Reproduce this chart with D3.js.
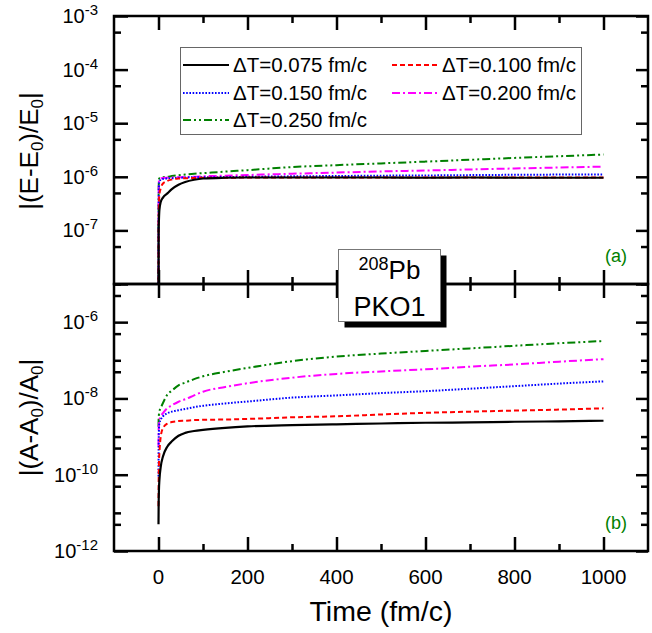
<!DOCTYPE html>
<html>
<head>
<meta charset="utf-8">
<script src="https://cdn.jsdelivr.net/npm/d3@7"></script>
<style>
  html, body { margin: 0; padding: 0; background: #fff; }
  svg { display: block; font-family: "Liberation Sans", Arial, sans-serif; }
</style>
</head>
<body>
<svg id="chart" width="652" height="633"></svg>
<script>
// ---------------- data ----------------
const time = [0, 0.3, 1, 2, 5, 10, 20, 30, 45, 60, 80, 100, 150, 200, 300, 400, 500, 600, 700, 800, 900, 1000];

const seriesNames = ["ΔT=0.075 fm/c", "ΔT=0.100 fm/c", "ΔT=0.150 fm/c", "ΔT=0.200 fm/c", "ΔT=0.250 fm/c"];

// panel (a): |(E-E0)/E0|
const energy075 = [1e-9, 1.0e-7, 1.6e-7, 2.4e-7, 3.4e-7, 4.1e-7, 4.9e-7, 5.9e-7, 7.1e-7, 8.0e-7, 8.8e-7, 9.3e-7, 9.6e-7, 9.7e-7, 9.7e-7, 9.7e-7, 9.7e-7, 9.6e-7, 9.7e-7, 9.6e-7, 9.6e-7, 9.6e-7];
const energy100 = [1e-9, 1.5e-7, 3.2e-7, 4.6e-7, 6.1e-7, 7.5e-7, 8.4e-7, 8.9e-7, 9.3e-7, 9.4e-7, 9.5e-7, 9.6e-7, 9.6e-7, 9.7e-7, 9.7e-7, 9.7e-7, 9.7e-7, 9.7e-7, 9.7e-7, 9.7e-7, 9.7e-7, 9.7e-7];
const energy150 = [1e-9, 3.0e-7, 7.0e-7, 8.2e-7, 8.8e-7, 9.1e-7, 9.3e-7, 9.4e-7, 9.6e-7, 9.7e-7, 9.8e-7, 9.8e-7, 9.9e-7, 1.0e-6, 1.02e-6, 1.035e-6, 1.05e-6, 1.06e-6, 1.075e-6, 1.09e-6, 1.1e-6, 1.11e-6];
const energy200 = [1e-9, 4.0e-7, 8.5e-7, 9.0e-7, 9.3e-7, 9.5e-7, 9.6e-7, 9.7e-7, 9.8e-7, 9.9e-7, 1.0e-6, 1.02e-6, 1.05e-6, 1.08e-6, 1.14e-6, 1.2e-6, 1.26e-6, 1.31e-6, 1.37e-6, 1.43e-6, 1.49e-6, 1.55e-6];
const energy250 = [1e-9, 5.0e-7, 9.0e-7, 9.4e-7, 9.6e-7, 9.8e-7, 1.0e-6, 1.03e-6, 1.07e-6, 1.1e-6, 1.14e-6, 1.17e-6, 1.25e-6, 1.33e-6, 1.52e-6, 1.65e-6, 1.78e-6, 1.92e-6, 2.08e-6, 2.25e-6, 2.42e-6, 2.6e-6];

// panel (b): |(A-A0)/A0|
const number075 = [5e-12, 1.5e-11, 4e-11, 7.2e-11, 1.6e-10, 3.0e-10, 5.5e-10, 7.5e-10, 1.05e-9, 1.25e-9, 1.4e-9, 1.5e-9, 1.7e-9, 1.85e-9, 2.0e-9, 2.1e-9, 2.2e-9, 2.3e-9, 2.35e-9, 2.45e-9, 2.5e-9, 2.6e-9];
const number100 = [1.5e-11, 6e-11, 2.0e-10, 3.6e-10, 1.0e-9, 1.66e-9, 2.2e-9, 2.4e-9, 2.55e-9, 2.6e-9, 2.7e-9, 2.75e-9, 2.8e-9, 2.9e-9, 3.2e-9, 3.4e-9, 3.8e-9, 4.2e-9, 4.5e-9, 4.8e-9, 5.1e-9, 5.5e-9];
const number150 = [9e-11, 5e-10, 1.5e-9, 2.2e-9, 2.75e-9, 3.4e-9, 4.1e-9, 4.5e-9, 4.9e-9, 5.3e-9, 5.9e-9, 6.4e-9, 7.4e-9, 8.3e-9, 1.05e-8, 1.2e-8, 1.38e-8, 1.55e-8, 1.8e-8, 2.1e-8, 2.45e-8, 2.8e-8];
const number200 = [5.5e-10, 1.5e-9, 2.2e-9, 2.75e-9, 3.4e-9, 4.1e-9, 5.6e-9, 6.6e-9, 8.2e-9, 9.5e-9, 1.2e-8, 1.5e-8, 2.0e-8, 2.5e-8, 3.5e-8, 4.4e-8, 5.1e-8, 5.8e-8, 6.8e-8, 7.8e-8, 9.2e-8, 1.07e-7];
const number250 = [1.8e-9, 3.0e-9, 3.8e-9, 4.6e-9, 5.6e-9, 7.6e-9, 1.26e-8, 1.6e-8, 2.2e-8, 2.6e-8, 3.2e-8, 3.8e-8, 5.0e-8, 6.3e-8, 9.5e-8, 1.25e-7, 1.5e-7, 1.76e-7, 2.05e-7, 2.4e-7, 2.8e-7, 3.2e-7];

const energySeries = [energy075, energy100, energy150, energy200, energy250];
const numberSeries = [number075, number100, number150, number200, number250];

// ticks
const xMajorTicks = [0, 200, 400, 600, 800, 1000];
const xMinorTicks = [100, 300, 500, 700, 900];
const topMajorTicks = [1e-3, 1e-4, 1e-5, 1e-6, 1e-7, 1e-8];
const topMinorTicks = [5e-4, 5e-5, 5e-6, 5e-7, 5e-8];
const topLabelExps = [-3, -4, -5, -6, -7];
const botMajorTicks = [1e-6, 1e-8, 1e-10, 1e-12];
const botMinorTicks = [1e-5, 1e-7, 1e-9, 1e-11, 5e-6, 5e-7, 5e-8, 5e-9, 5e-10, 5e-11, 5e-12];
const botLabelExps = [-6, -8, -10, -12];

// ---------------- styles ----------------
const colors = ["#000000", "#ff0000", "#0000ff", "#ff00ff", "#008000"];
const dashes = [null, "5,3", "1.6,1.6", "8,3,2,3", "8,3,2,3,2,3"];

// ---------------- layout ----------------
const L = 114, R = 648, T = 16, M = 284, B = 551;
const svg = d3.select("#chart");
svg.append("rect").attr("width", 652).attr("height", 633).attr("fill", "#fff");

const x = d3.scaleLinear().domain([-100, 1100]).range([L, R]);
const yTop = d3.scaleLog().domain([1e-8, 1e-3]).range([M, T]);
const yBot = d3.scaleLog().domain([1e-12, 1e-5]).range([B, M]);

const defs = svg.append("defs");
defs.append("clipPath").attr("id", "clipTop").append("rect")
  .attr("x", L).attr("y", T).attr("width", R - L).attr("height", M - T);
defs.append("clipPath").attr("id", "clipBot").append("rect")
  .attr("x", L).attr("y", M).attr("width", R - L).attr("height", B - M);

function drawLines(seriesArr, yScale, clipId) {
  const g = svg.append("g").attr("clip-path", `url(#${clipId})`);
  const line = d3.line()
    .x((d, i) => x(time[i]))
    .y(d => yScale(d))
    .curve(d3.curveMonotoneX);
  for (let k = seriesArr.length - 1; k >= 0; k--) {
    g.append("path")
      .attr("d", line(seriesArr[k]))
      .attr("fill", "none")
      .attr("stroke", colors[k])
      .attr("stroke-width", k === 0 ? 2.2 : 2)
      .attr("stroke-dasharray", dashes[k]);
  }
}
drawLines(energySeries, yTop, "clipTop");
drawLines(numberSeries, yBot, "clipBot");

// ---------------- axes ----------------
const SW = 2.5, MAJ = 14, MIN = 7;
function styleAxis(g) {
  g.select(".domain").remove();
  g.selectAll("line").attr("stroke", "#000").attr("stroke-width", SW);
  g.selectAll("text").remove();
}
function addAxis(axisFn, scale, ticks, size, transform) {
  svg.append("g").attr("transform", transform)
    .call(axisFn(scale).tickValues(ticks).tickSize(-size).tickSizeOuter(0).tickFormat(""))
    .call(styleAxis);
}
[[d3.axisTop, T], [d3.axisBottom, M], [d3.axisTop, M], [d3.axisBottom, B]].forEach(([fn, yy]) => {
  addAxis(fn, x, xMajorTicks, MAJ, `translate(0,${yy})`);
  addAxis(fn, x, xMinorTicks, MIN, `translate(0,${yy})`);
});
addAxis(d3.axisLeft, yTop, topMajorTicks, MAJ, `translate(${L},0)`);
addAxis(d3.axisLeft, yTop, topMinorTicks, MIN, `translate(${L},0)`);
addAxis(d3.axisRight, yTop, topMajorTicks, 12, `translate(${R},0)`);
addAxis(d3.axisRight, yTop, topMinorTicks, MIN, `translate(${R},0)`);
addAxis(d3.axisLeft, yBot, botMajorTicks, MAJ, `translate(${L},0)`);
addAxis(d3.axisLeft, yBot, botMinorTicks, MIN, `translate(${L},0)`);
addAxis(d3.axisRight, yBot, botMajorTicks, 12, `translate(${R},0)`);
addAxis(d3.axisRight, yBot, botMinorTicks, MIN, `translate(${R},0)`);

const frame = svg.append("g").attr("fill", "none").attr("stroke", "#000").attr("stroke-width", SW);
frame.append("rect").attr("x", L).attr("y", T).attr("width", R - L).attr("height", M - T);
frame.append("rect").attr("x", L).attr("y", M).attr("width", R - L).attr("height", B - M);

// tick labels
const xl = svg.append("g").attr("font-size", 20.5).attr("text-anchor", "middle").attr("fill", "#000");
xMajorTicks.forEach(v => xl.append("text").attr("x", x(v)).attr("y", 584).text(v));

function yLabels(exps, scale) {
  const g = svg.append("g").attr("fill", "#000").attr("text-anchor", "end");
  exps.forEach(e => {
    const yy = scale(Math.pow(10, e));
    const t = g.append("text").attr("x", 98).attr("y", yy + 7).attr("font-size", 20);
    t.append("tspan").text("10");
    t.append("tspan").attr("font-size", 15).attr("dy", -8).text(String(e));
  });
}
yLabels(topLabelExps, yTop);
yLabels(botLabelExps, yBot);

function yTitle(base, cy) {
  const t = svg.append("text").attr("transform", `translate(38,${cy}) rotate(-90)`)
    .attr("text-anchor", "middle").attr("font-size", 26).attr("fill", "#000");
  t.append("tspan").text(`|(${base}-${base}`);
  t.append("tspan").attr("font-size", 17).attr("dy", 5).text("0");
  t.append("tspan").attr("dy", -5).text(`)/${base}`);
  t.append("tspan").attr("font-size", 17).attr("dy", 5).text("0");
  t.append("tspan").attr("dy", -5).text("|");
}
yTitle("E", (T + M) / 2 + 1);
yTitle("A", (M + B) / 2);

svg.append("text").attr("x", (L + R) / 2).attr("y", 621).attr("text-anchor", "middle")
  .attr("font-size", 28.5).attr("fill", "#000").text("Time (fm/c)");

svg.append("text").attr("x", 627).attr("y", 262).attr("text-anchor", "end")
  .attr("font-size", 18).attr("fill", "#008000").text("(a)");
svg.append("text").attr("x", 627).attr("y", 529).attr("text-anchor", "end")
  .attr("font-size", 18).attr("fill", "#008000").text("(b)");

// ---------------- legend ----------------
const lg = svg.append("g");
lg.append("rect").attr("x", 180.5).attr("y", 47.5).attr("width", 401).attr("height", 87)
  .attr("fill", "#fff").attr("stroke", "#666").attr("stroke-width", 1);
const legendPos = [[183, 65], [392, 65], [183, 93], [392, 93], [183, 120]];
seriesNames.forEach((name, k) => {
  const [lx, ly] = legendPos[k];
  lg.append("line").attr("x1", lx).attr("x2", lx + 46).attr("y1", ly).attr("y2", ly)
    .attr("stroke", colors[k]).attr("stroke-width", 1.8).attr("stroke-dasharray", dashes[k]);
  lg.append("text").attr("x", lx + 50).attr("y", ly + 7).attr("font-size", 20.5)
    .attr("fill", "#000").text(name);
});

// ---------------- nucleus box ----------------
const bx = 338.5, by = 249.5, bw = 102, bh = 72;
svg.append("rect").attr("x", bx + 6).attr("y", by + 6).attr("width", bw).attr("height", bh).attr("fill", "#000");
svg.append("rect").attr("x", bx).attr("y", by).attr("width", bw).attr("height", bh)
  .attr("fill", "#fff").attr("stroke", "#777").attr("stroke-width", 1);
const t1 = svg.append("text").attr("x", bx + bw / 2).attr("y", 279).attr("text-anchor", "middle")
  .attr("font-size", 26).attr("fill", "#000");
t1.append("tspan").attr("font-size", 18).attr("dy", -9).text("208");
t1.append("tspan").attr("dy", 9).text("Pb");
svg.append("text").attr("x", bx + bw / 2).attr("y", 316).attr("text-anchor", "middle")
  .attr("font-size", 27).attr("fill", "#000").text("PKO1");
</script>
</body>
</html>
